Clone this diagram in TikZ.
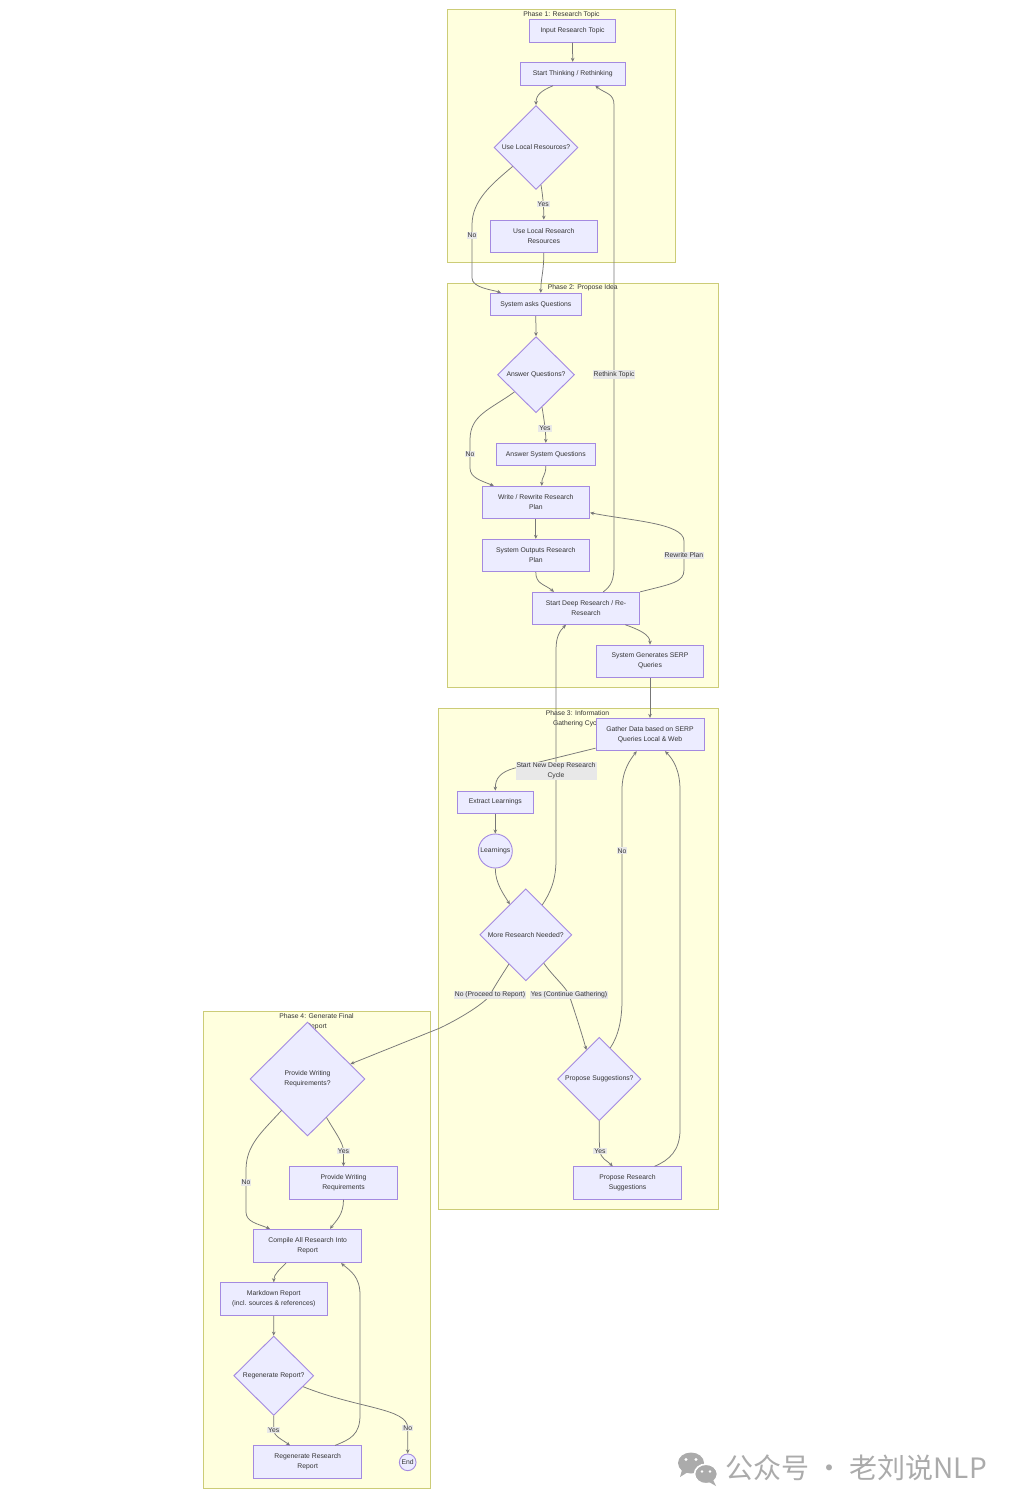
\documentclass[tikz,border=0pt]{standalone}
\usepackage{fontspec}
\setmainfont{Liberation Sans}
\newfontfamily\cjkfont{Noto Sans CJK SC}
\usetikzlibrary{shapes.geometric,arrows.meta,calc}
\definecolor{nfill}{HTML}{ECECFF}
\definecolor{nstroke}{HTML}{A48AE0}
\definecolor{clfill}{HTML}{FFFFDE}
\definecolor{clstroke}{HTML}{CCCC77}
\definecolor{edgec}{HTML}{777777}
\definecolor{labfill}{HTML}{E8E8E8}
\definecolor{txt}{HTML}{333333}
\definecolor{wmgrey}{HTML}{ABABAB}
\tikzset{
  cl/.style={draw=clstroke, fill=clfill, line width=0.9pt},
  nbox/.style={draw=nstroke, fill=nfill, line width=0.9pt, rectangle, inner sep=0pt, align=center, text=txt},
  ndia/.style={draw=nstroke, fill=nfill, line width=0.9pt, diamond, aspect=1, inner sep=0pt, align=center, text=txt},
  ncirc/.style={draw=nstroke, fill=nfill, line width=0.9pt, circle, inner sep=0pt, align=center, text=txt},
  conn/.style={draw=edgec, line width=0.75pt, -{Stealth[length=4pt,width=3.6pt]}},
  elab/.style={fill=labfill, inner sep=1pt, text=txt, align=center},
  ctitle/.style={text=txt, align=center, inner sep=0pt}
}
\begin{document}
\begin{tikzpicture}[x=1pt,y=-1pt,font=\fontsize{6.8}{10}\selectfont]
\fill[white] (0,0) rectangle (1018,1512);
\useasboundingbox (0,0) rectangle (1018,1512);

% clusters
\draw[cl] (447.3,9.3) rectangle (675.7,262.3);
\draw[cl] (447.3,283.3) rectangle (718.3,687.3);
\draw[cl] (438.3,708.3) rectangle (718.7,1209.3);
\draw[cl] (203.3,1011.7) rectangle (430.3,1488.7);
\node[ctitle] (t1) at (561.5,15.2) {Phase 1: Research Topic};
\node[ctitle] (t2) at (582.8,287.8) {Phase 2: Propose Idea};
\node[ctitle] (t3) at (577.5,718.3) {Phase 3: Information\\Gathering Cycle};
\node[ctitle] (t4) at (316.5,1022) {Phase 4: Generate Final\\Report};

% nodes
\node[nbox, minimum width=86.4pt, minimum height=23pt] (in1) at (572.5,30.8) {Input Research Topic};
\node[nbox, minimum width=105.3pt, minimum height=23pt] (st) at (572.7,73.8) {Start Thinking / Rethinking};
\node[ndia, minimum width=84pt, minimum height=84pt] (ulq) at (536,147.5) {Use Local Resources?};
\node[nbox, minimum width=107.7pt, minimum height=32.3pt] (ulr) at (543.8,236.2) {Use Local Research\\Resources};
\node[nbox, minimum width=91pt, minimum height=22.4pt] (saq) at (535.8,304.5) {System asks Questions};
\node[ndia, minimum width=77pt, minimum height=76pt] (aq) at (536,374.7) {Answer Questions?};
\node[nbox, minimum width=99.7pt, minimum height=22.4pt] (asq) at (545.8,454.5) {Answer System Questions};
\node[nbox, minimum width=107.7pt, minimum height=32.4pt] (wrp) at (535.8,502.5) {Write / Rewrite Research\\Plan};
\node[nbox, minimum width=107.7pt, minimum height=32.4pt] (sorp) at (535.8,555.5) {System Outputs Research\\Plan};
\node[nbox, minimum width=107.4pt, minimum height=32pt] (sdr) at (586,608.3) {Start Deep Research / Re-\\Research};
\node[nbox, minimum width=107.4pt, minimum height=32.3pt] (sgs) at (650,661.2) {System Generates SERP\\Queries};
\node[nbox, minimum width=108pt, minimum height=32.4pt] (gd) at (650,734.5) {Gather Data based on SERP\\Queries Local \& Web};
\node[nbox, minimum width=76.7pt, minimum height=22.3pt] (el) at (495.3,802.2) {Extract Learnings};
\node[ncirc, minimum size=34pt] (lrn) at (495.3,851) {Learnings};
\node[ndia, minimum width=92pt, minimum height=92pt] (mrn) at (525.8,934.8) {More Research Needed?};
\node[ndia, minimum width=83.3pt, minimum height=83.3pt] (ps) at (599.3,1079) {Propose Suggestions?};
\node[nbox, minimum width=108.4pt, minimum height=32.6pt] (prs) at (627.5,1183) {Propose Research\\Suggestions};
\node[ndia, minimum width=115pt, minimum height=114pt] (pwq) at (307.5,1079) {Provide Writing\\Requirements?};
\node[nbox, minimum width=108.4pt, minimum height=32.6pt] (pwr) at (343.5,1183) {Provide Writing\\Requirements};
\node[nbox, minimum width=108pt, minimum height=33.4pt] (car) at (307.7,1246) {Compile All Research Into\\Report};
\node[nbox, minimum width=107.7pt, minimum height=32.6pt] (mr) at (273.8,1299) {Markdown Report\\(incl. sources \& references)};
\node[ndia, minimum width=80pt, minimum height=79.3pt] (rq) at (273.7,1375.7) {Regenerate Report?};
\node[nbox, minimum width=108pt, minimum height=32.3pt] (rrr) at (307.7,1462) {Regenerate Research\\Report};
\node[ncirc, minimum size=16.7pt] (endn) at (407.7,1462.3) {End};

% edges
\draw[conn] (in1.south) -- (st.north);
\draw[conn] ($(st.south)+(-19.7,0)$) .. controls +(-12,5) and +(0,-10) .. (ulq.north);
\draw[conn] ($(ulq.south)+(5,-5)$) .. controls +(2,12) and +(0,-12) .. node[elab,pos=0.55] {Yes} (ulr.north);
\draw[conn] ($(ulq.west)+(19,19)$) .. controls +(-20,17) and +(0,-25) .. (472,225) -- node[elab,pos=0.2] {No} (472,278) .. controls +(0,10) and +(-8,-3) .. ($(saq.north)+(-34.8,0)$);
\draw[conn] (ulr.south) .. controls +(0,20) and +(0,-15) .. ($(saq.north)+(5,0)$);
\draw[conn] (saq.south) -- (aq.north);
\draw[conn] ($(aq.south)+(6,-6)$) .. controls +(2,12) and +(0,-12) .. node[elab,pos=0.6] {Yes} (asq.north);
\draw[conn] ($(aq.west)+(17.3,17.3)$) .. controls +(-25,18) and +(0,-25) .. (470,440) -- node[elab,pos=0.5] {No} (470,468) .. controls +(0,10) and +(-12,-5) .. ($(wrp.north)+(-42,0)$);
\draw[conn] (asq.south) .. controls +(0,10) and +(0,-10) .. ($(wrp.north)+(6,0)$);
\draw[conn] (wrp.south) -- (sorp.north);
\draw[conn] (sorp.south) .. controls +(0,12) and +(-10,-8) .. ($(sdr.north)+(-32,0)$);
\draw[conn] ($(sdr.north)+(17.3,0)$) .. controls +(8,-6) and +(0,15) .. (614,565) -- node[elab,pos=0.414] {Rethink Topic} (614,105) .. controls +(0,-12) and +(10,8) .. ($(st.south)+(22.6,0)$);
\draw[conn] (sdr.north east) .. controls +(32,-8) and +(0,12) .. (684,570) -- node[elab,pos=0.5] {Rewrite Plan} (684,541) .. controls +(0,-18) and +(40,8) .. ($(wrp.east)+(0,10.2)$);
\draw[conn] ($(sdr.south)+(39.3,0)$) .. controls +(14,5) and +(0,-10) .. (sgs.north);
\draw[conn] (sgs.south) -- (gd.north);
\draw[conn] ($(gd.south west)+(0,-3)$) -- (515,768) .. controls +(-15,4) and +(0,-12) .. (el.north);
\draw[conn] (el.south) -- (lrn.north);
\draw[conn] (lrn.south) .. controls +(0,15) and +(-6,-10) .. ($(mrn.north)+(-16,16)$);
\draw[conn] ($(mrn.north)+(16.5,16.5)$) .. controls +(8,-12) and +(0,20) .. (556,860) -- node[elab,pos=0.423] {Start New Deep Research\\Cycle} (556,650) .. controls +(0,-14) and +(-6,6) .. ($(sdr.south)+(-20,0)$);
\draw[conn] ($(mrn.south)+(-17,-17)$) .. controls +(-9,14) and +(3,-6) .. (490,995) node[elab] {No (Proceed to Report)} .. controls +(-3,6) and +(25,-12) .. (440,1028) -- ($(pwq.east)+(-15,-15)$);
\draw[conn] ($(mrn.south)+(18,-18)$) .. controls +(10,14) and +(-3,-8) .. (569,995) node[elab] {Yes (Continue Gathering)} .. controls +(3,8) and +(-4,-15) .. ($(ps.north)+(-13,13)$);
\draw[conn] ($(ps.north)+(11,11)$) .. controls +(8,-12) and +(0,20) .. (622,1000) -- node[elab,pos=0.711] {No} (622,790) .. controls +(0,-20) and +(-6,8) .. ($(gd.south)+(-13.3,0)$);
\draw[conn] (ps.south) .. controls +(0,15) and +(-1,-8) .. (600,1151) node[elab] {Yes} .. controls +(1,8) and +(-6,-6) .. ($(prs.north)+(-14.8,0)$);
\draw[conn] ($(prs.north)+(27,0)$) .. controls +(15,-6) and +(0,20) .. (680,1130) -- (680,790) .. controls +(0,-20) and +(8,8) .. ($(gd.south)+(15,0)$);
\draw[conn] ($(pwq.south)+(19,-19)$) .. controls +(8,14) and +(0,-8) .. (343.5,1151) node[elab] {Yes} -- (pwr.north);
\draw[conn] ($(pwq.south)+(-26,-26)$) .. controls +(-20,22) and +(0,-25) .. (246,1170) -- node[elab,pos=0.3] {No} (246,1212) .. controls +(0,10) and +(-12,-5) .. ($(car.north)+(-37.7,0)$);
\draw[conn] (pwr.south) .. controls +(0,15) and +(6,-8) .. ($(car.north)+(22.3,0)$);
\draw[conn] ($(car.south)+(-21.7,0)$) .. controls +(-6,6) and +(0,-8) .. (mr.north);
\draw[conn] (mr.south) -- (rq.north);
\draw[conn] (rq.south) .. controls +(0,10) and +(0,-5) .. (273.7,1430) node[elab] {Yes} .. controls +(0,6) and +(-8,-6) .. ($(rrr.north)+(-17.7,0)$);
\draw[conn] ($(rq.east)+(-11,11)$) .. controls +(55,22) and +(0,-20) .. (407.7,1428) node[elab] {No} -- (endn.north);
\draw[conn] ($(rrr.north)+(27.3,0)$) .. controls +(15,-6) and +(0,20) .. (360,1415) -- (360,1295) .. controls +(0,-18) and +(10,8) .. ($(car.south)+(33.3,0)$);

% watermark
\fill[wmgrey] (691,1463) ellipse [x radius=13, y radius=10.5];
\fill[wmgrey] (682,1470) -- (680,1477) -- (688,1472) -- cycle;
\fill[white] (686,1459.5) circle (1.6);
\fill[white] (696,1459.5) circle (1.6);
\draw[white, line width=1.6pt, fill=wmgrey] (706,1474) ellipse [x radius=11.5, y radius=9.8];
\fill[wmgrey] (713,1480) -- (716,1486) -- (709,1482) -- cycle;
\fill[white] (702,1471.5) circle (1.4);
\fill[white] (710,1471.5) circle (1.4);
\node[anchor=west, text=wmgrey, inner sep=0pt, font=\cjkfont\fontsize{28}{30}\selectfont] (wm) at (725,1468) {公众号 · 老刘说NLP};
\end{tikzpicture}
\end{document}
